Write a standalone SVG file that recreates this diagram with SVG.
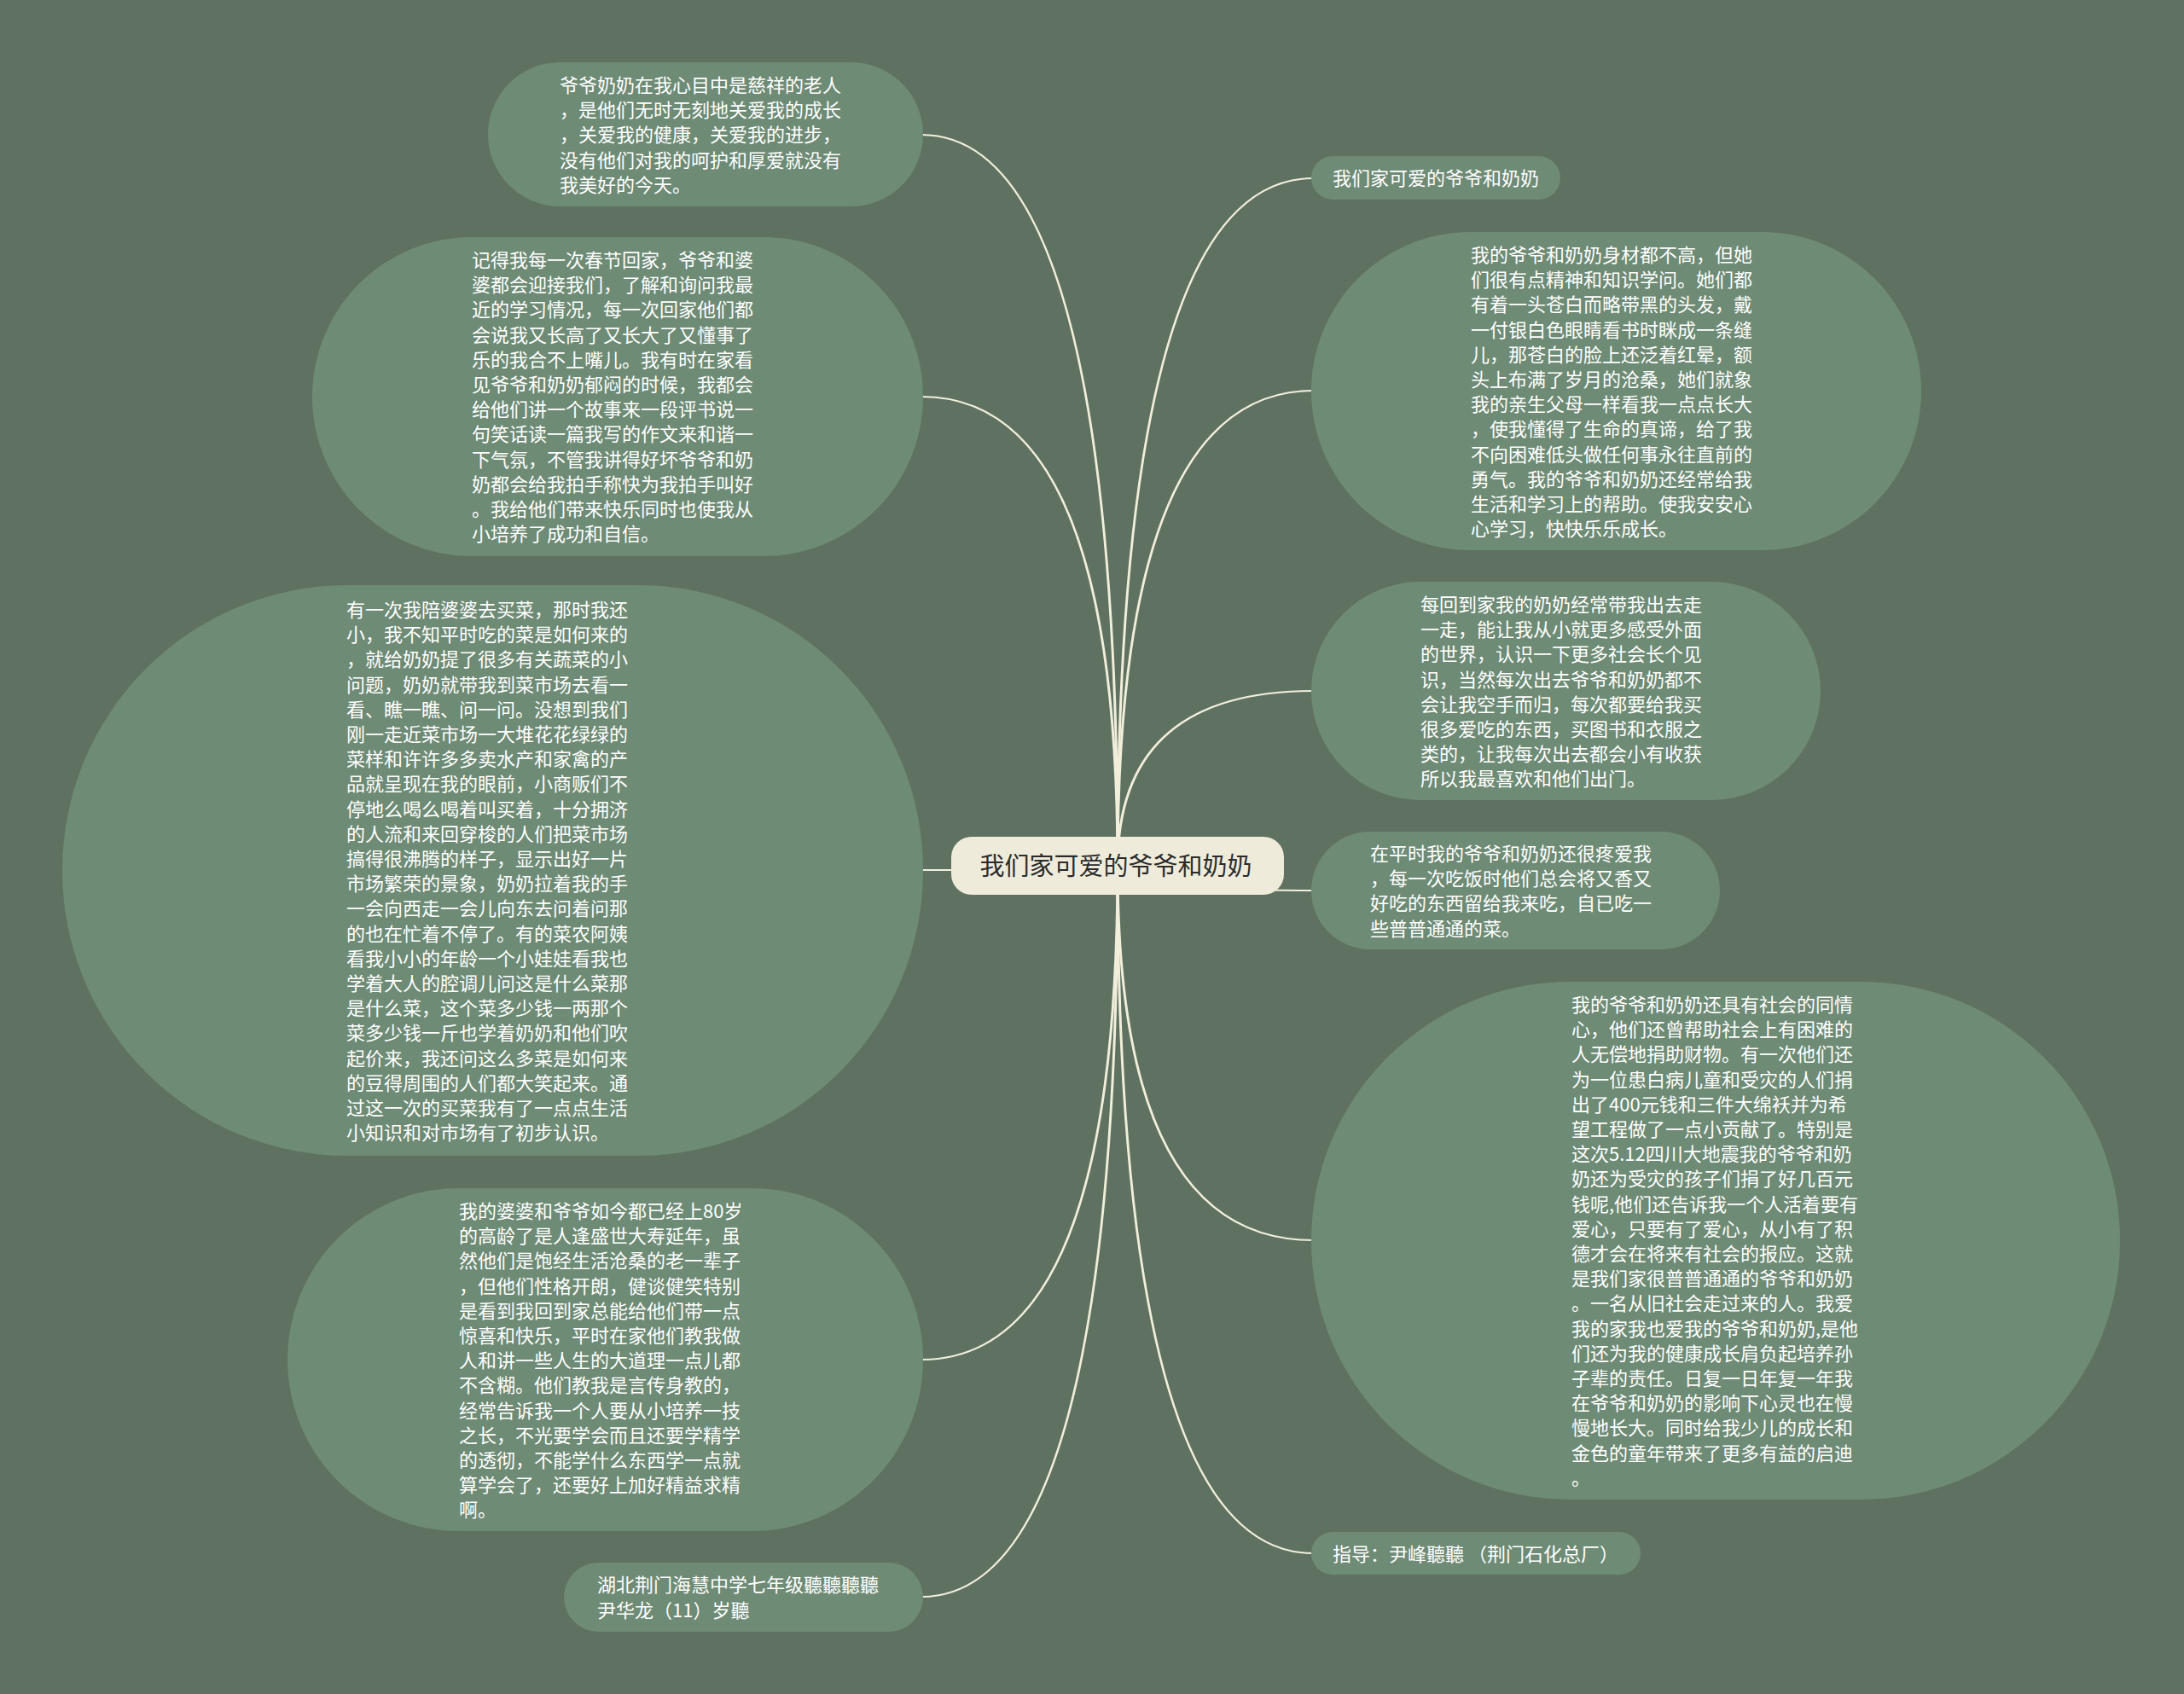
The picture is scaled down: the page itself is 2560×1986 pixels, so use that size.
<svg xmlns="http://www.w3.org/2000/svg" width="2560" height="1986" viewBox="0 0 2560 1986">
<style>
.bg{fill:#5f7261}
.node{fill:#6e8b75}
.root{fill:#efebdb}
.conn{fill:#f2eedc}
.t{font-family:"Noto Sans CJK SC","Noto Sans",sans-serif;font-size:22px;fill:#ffffff}
.rt{font-family:"Noto Sans CJK SC","Noto Sans",sans-serif;font-size:29px;fill:#2b2b2b}
</style>
<rect class="bg" x="0" y="0" width="2560" height="1986"/>
<g id="connectors">
<path class="conn" d="M1311.5,1015 Q1311.5,157 1080,157 L1080,159 Q1308.5,159 1308.5,1015 Z"/>
<path class="conn" d="M1311.5,1015 Q1311.5,464 1080,464 L1080,466 Q1308.5,466 1308.5,1015 Z"/>
<path class="conn" d="M1311.5,1015 Q1311.5,1021 1080,1021 L1080,1019 Q1308.5,1019 1308.5,1015 Z"/>
<path class="conn" d="M1311.5,1015 Q1311.5,1595 1080,1595 L1080,1593 Q1308.5,1593 1308.5,1015 Z"/>
<path class="conn" d="M1311.5,1015 Q1311.5,1873 1080,1873 L1080,1871 Q1308.5,1871 1308.5,1015 Z"/>
<path class="conn" d="M1308.5,1015 Q1308.5,208 1539,208 L1539,210 Q1311.5,210 1311.5,1015 Z"/>
<path class="conn" d="M1308.5,1015 Q1308.5,457 1539,457 L1539,459 Q1311.5,459 1311.5,1015 Z"/>
<path class="conn" d="M1308.5,1015 Q1308.5,809 1539,809 L1539,811 Q1311.5,811 1311.5,1015 Z"/>
<path class="conn" d="M1308.5,1015 Q1308.5,1045 1539,1045 L1539,1043 Q1311.5,1043 1311.5,1015 Z"/>
<path class="conn" d="M1308.5,1015 Q1308.5,1455 1539,1455 L1539,1453 Q1311.5,1453 1311.5,1015 Z"/>
<path class="conn" d="M1308.5,1015 Q1308.5,1822 1539,1822 L1539,1820 Q1311.5,1820 1311.5,1015 Z"/>
</g>
<g id="root">
<rect class="root" x="1115" y="981" width="390" height="68" rx="24"/>
<text class="rt" x="1308" y="1026" text-anchor="middle">我们家可爱的爷爷和奶奶</text>
</g>
<g id="left1">
<rect class="node" x="572" y="73" width="510" height="169" rx="84.5"/>
<text class="t" x="656" y="108"><tspan x="656">爷爷奶奶在我心目中是慈祥的老人</tspan><tspan x="656" dy="29.2">，是他们无时无刻地关爱我的成长</tspan><tspan x="656" dy="29.2">，关爱我的健康，关爱我的进步，</tspan><tspan x="656" dy="29.2">没有他们对我的呵护和厚爱就没有</tspan><tspan x="656" dy="29.2">我美好的今天。</tspan></text>
</g>
<g id="left2">
<rect class="node" x="366" y="278" width="716" height="374" rx="187"/>
<text class="t" x="553" y="313"><tspan x="553">记得我每一次春节回家，爷爷和婆</tspan><tspan x="553" dy="29.2">婆都会迎接我们，了解和询问我最</tspan><tspan x="553" dy="29.2">近的学习情况，每一次回家他们都</tspan><tspan x="553" dy="29.2">会说我又长高了又长大了又懂事了</tspan><tspan x="553" dy="29.2">乐的我合不上嘴儿。我有时在家看</tspan><tspan x="553" dy="29.2">见爷爷和奶奶郁闷的时候，我都会</tspan><tspan x="553" dy="29.2">给他们讲一个故事来一段评书说一</tspan><tspan x="553" dy="29.2">句笑话读一篇我写的作文来和谐一</tspan><tspan x="553" dy="29.2">下气氛，不管我讲得好坏爷爷和奶</tspan><tspan x="553" dy="29.2">奶都会给我拍手称快为我拍手叫好</tspan><tspan x="553" dy="29.2">。我给他们带来快乐同时也使我从</tspan><tspan x="553" dy="29.2">小培养了成功和自信。</tspan></text>
</g>
<g id="left3">
<rect class="node" x="73" y="686" width="1009" height="669" rx="334.5"/>
<text class="t" x="406" y="723"><tspan x="406">有一次我陪婆婆去买菜，那时我还</tspan><tspan x="406" dy="29.2">小，我不知平时吃的菜是如何来的</tspan><tspan x="406" dy="29.2">，就给奶奶提了很多有关蔬菜的小</tspan><tspan x="406" dy="29.2">问题，奶奶就带我到菜市场去看一</tspan><tspan x="406" dy="29.2">看、瞧一瞧、问一问。没想到我们</tspan><tspan x="406" dy="29.2">刚一走近菜市场一大堆花花绿绿的</tspan><tspan x="406" dy="29.2">菜样和许许多多卖水产和家禽的产</tspan><tspan x="406" dy="29.2">品就呈现在我的眼前，小商贩们不</tspan><tspan x="406" dy="29.2">停地么喝么喝着叫买着，十分拥济</tspan><tspan x="406" dy="29.2">的人流和来回穿梭的人们把菜市场</tspan><tspan x="406" dy="29.2">搞得很沸腾的样子，显示出好一片</tspan><tspan x="406" dy="29.2">市场繁荣的景象，奶奶拉着我的手</tspan><tspan x="406" dy="29.2">一会向西走一会儿向东去问着问那</tspan><tspan x="406" dy="29.2">的也在忙着不停了。有的菜农阿姨</tspan><tspan x="406" dy="29.2">看我小小的年龄一个小娃娃看我也</tspan><tspan x="406" dy="29.2">学着大人的腔调儿问这是什么菜那</tspan><tspan x="406" dy="29.2">是什么菜，这个菜多少钱一两那个</tspan><tspan x="406" dy="29.2">菜多少钱一斤也学着奶奶和他们吹</tspan><tspan x="406" dy="29.2">起价来，我还问这么多菜是如何来</tspan><tspan x="406" dy="29.2">的豆得周围的人们都大笑起来。通</tspan><tspan x="406" dy="29.2">过这一次的买菜我有了一点点生活</tspan><tspan x="406" dy="29.2">小知识和对市场有了初步认识。</tspan></text>
</g>
<g id="left4">
<rect class="node" x="337" y="1393" width="745" height="402" rx="201"/>
<text class="t" x="538" y="1428"><tspan x="538">我的婆婆和爷爷如今都已经上80岁</tspan><tspan x="538" dy="29.2">的高龄了是人逢盛世大寿延年，虽</tspan><tspan x="538" dy="29.2">然他们是饱经生活沧桑的老一辈子</tspan><tspan x="538" dy="29.2">，但他们性格开朗，健谈健笑特别</tspan><tspan x="538" dy="29.2">是看到我回到家总能给他们带一点</tspan><tspan x="538" dy="29.2">惊喜和快乐，平时在家他们教我做</tspan><tspan x="538" dy="29.2">人和讲一些人生的大道理一点儿都</tspan><tspan x="538" dy="29.2">不含糊。他们教我是言传身教的，</tspan><tspan x="538" dy="29.2">经常告诉我一个人要从小培养一技</tspan><tspan x="538" dy="29.2">之长，不光要学会而且还要学精学</tspan><tspan x="538" dy="29.2">的透彻，不能学什么东西学一点就</tspan><tspan x="538" dy="29.2">算学会了，还要好上加好精益求精</tspan><tspan x="538" dy="29.2">啊。</tspan></text>
</g>
<g id="left5">
<rect class="node" x="661" y="1832" width="421" height="81" rx="40.5"/>
<text class="t" x="700" y="1866"><tspan x="700">湖北荆门海慧中学七年级聽聽聽聽</tspan><tspan x="700" dy="30">尹华龙（11）岁聽</tspan></text>
</g>
<g id="right1">
<rect class="node" x="1537" y="183" width="292" height="51" rx="25.5"/>
<text class="t" x="1562" y="217">我们家可爱的爷爷和奶奶</text>
</g>
<g id="right2">
<rect class="node" x="1537" y="272" width="715" height="373" rx="186.5"/>
<text class="t" x="1724" y="307"><tspan x="1724">我的爷爷和奶奶身材都不高，但她</tspan><tspan x="1724" dy="29.2">们很有点精神和知识学问。她们都</tspan><tspan x="1724" dy="29.2">有着一头苍白而略带黑的头发，戴</tspan><tspan x="1724" dy="29.2">一付银白色眼睛看书时眯成一条缝</tspan><tspan x="1724" dy="29.2">儿，那苍白的脸上还泛着红晕，额</tspan><tspan x="1724" dy="29.2">头上布满了岁月的沧桑，她们就象</tspan><tspan x="1724" dy="29.2">我的亲生父母一样看我一点点长大</tspan><tspan x="1724" dy="29.2">，使我懂得了生命的真谛，给了我</tspan><tspan x="1724" dy="29.2">不向困难低头做任何事永往直前的</tspan><tspan x="1724" dy="29.2">勇气。我的爷爷和奶奶还经常给我</tspan><tspan x="1724" dy="29.2">生活和学习上的帮助。使我安安心</tspan><tspan x="1724" dy="29.2">心学习，快快乐乐成长。</tspan></text>
</g>
<g id="right3">
<rect class="node" x="1537" y="682" width="597" height="256" rx="128"/>
<text class="t" x="1665" y="717"><tspan x="1665">每回到家我的奶奶经常带我出去走</tspan><tspan x="1665" dy="29.2">一走，能让我从小就更多感受外面</tspan><tspan x="1665" dy="29.2">的世界，认识一下更多社会长个见</tspan><tspan x="1665" dy="29.2">识，当然每次出去爷爷和奶奶都不</tspan><tspan x="1665" dy="29.2">会让我空手而归，每次都要给我买</tspan><tspan x="1665" dy="29.2">很多爱吃的东西，买图书和衣服之</tspan><tspan x="1665" dy="29.2">类的，让我每次出去都会小有收获</tspan><tspan x="1665" dy="29.2">所以我最喜欢和他们出门。</tspan></text>
</g>
<g id="right4">
<rect class="node" x="1537" y="975" width="479" height="138" rx="69"/>
<text class="t" x="1606" y="1009"><tspan x="1606">在平时我的爷爷和奶奶还很疼爱我</tspan><tspan x="1606" dy="29.2">，每一次吃饭时他们总会将又香又</tspan><tspan x="1606" dy="29.2">好吃的东西留给我来吃，自已吃一</tspan><tspan x="1606" dy="29.2">些普普通通的菜。</tspan></text>
</g>
<g id="right5">
<rect class="node" x="1537" y="1151" width="948" height="607" rx="303.5"/>
<text class="t" x="1842" y="1186"><tspan x="1842">我的爷爷和奶奶还具有社会的同情</tspan><tspan x="1842" dy="29.2">心，他们还曾帮助社会上有困难的</tspan><tspan x="1842" dy="29.2">人无偿地捐助财物。有一次他们还</tspan><tspan x="1842" dy="29.2">为一位患白病儿童和受灾的人们捐</tspan><tspan x="1842" dy="29.2">出了400元钱和三件大绵袄并为希</tspan><tspan x="1842" dy="29.2">望工程做了一点小贡献了。特别是</tspan><tspan x="1842" dy="29.2">这次5.12四川大地震我的爷爷和奶</tspan><tspan x="1842" dy="29.2">奶还为受灾的孩子们捐了好几百元</tspan><tspan x="1842" dy="29.2">钱呢,他们还告诉我一个人活着要有</tspan><tspan x="1842" dy="29.2">爱心，只要有了爱心，从小有了积</tspan><tspan x="1842" dy="29.2">德才会在将来有社会的报应。这就</tspan><tspan x="1842" dy="29.2">是我们家很普普通通的爷爷和奶奶</tspan><tspan x="1842" dy="29.2">。一名从旧社会走过来的人。我爱</tspan><tspan x="1842" dy="29.2">我的家我也爱我的爷爷和奶奶,是他</tspan><tspan x="1842" dy="29.2">们还为我的健康成长肩负起培养孙</tspan><tspan x="1842" dy="29.2">子辈的责任。日复一日年复一年我</tspan><tspan x="1842" dy="29.2">在爷爷和奶奶的影响下心灵也在慢</tspan><tspan x="1842" dy="29.2">慢地长大。同时给我少儿的成长和</tspan><tspan x="1842" dy="29.2">金色的童年带来了更多有益的启迪</tspan><tspan x="1842" dy="29.2">。</tspan></text>
</g>
<g id="right6">
<rect class="node" x="1537" y="1796" width="386" height="50" rx="25"/>
<text class="t" x="1562" y="1830">指导：尹峰聽聽 （荆门石化总厂）</text>
</g>
</svg>
